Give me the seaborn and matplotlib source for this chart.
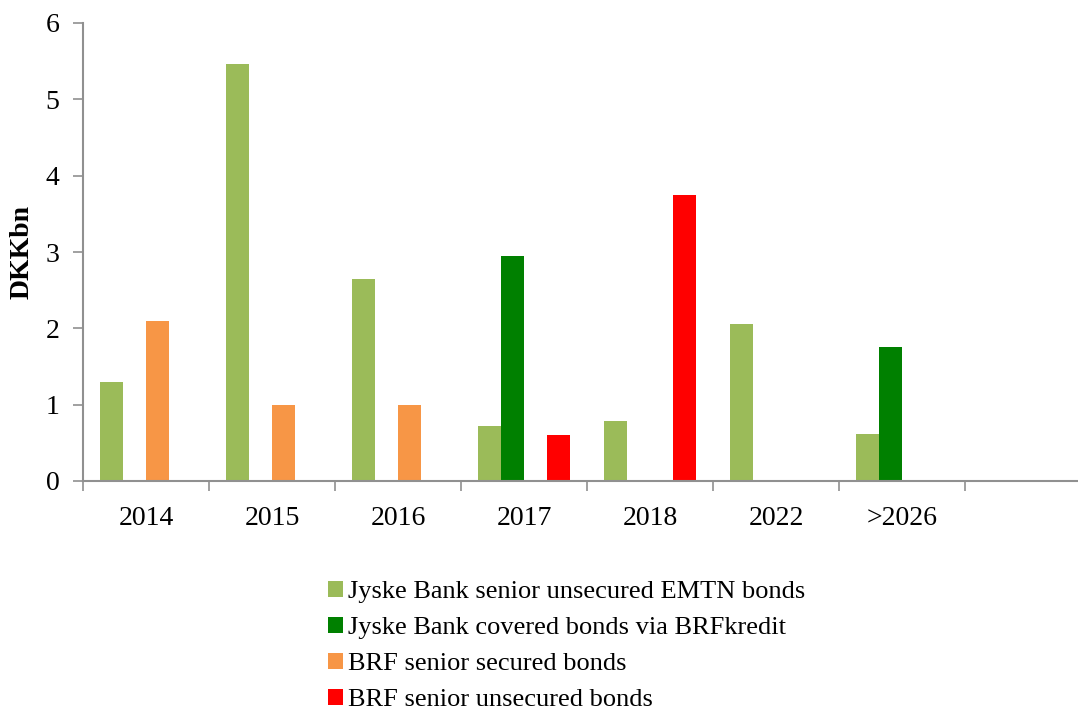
import matplotlib
matplotlib.use("Agg")
import matplotlib.pyplot as plt
import seaborn as sns
import pandas as pd
import numpy as np

categories = ["2014", "2015", "2016", "2017", "2018", "2022", ">2026"]
series_names = [
    "Jyske Bank senior unsecured EMTN bonds",
    "Jyske Bank covered bonds via BRFkredit",
    "BRF senior secured bonds",
    "BRF senior unsecured bonds",
]
jyske_emtn = [1.30, 5.46, 2.64, 0.72, 0.78, 2.06, 0.62]
jyske_covered = [0, 0, 0, 2.95, 0, 0, 1.75]
brf_secured = [2.10, 1.00, 1.00, 0, 0, 0, 0]
brf_unsecured = [0, 0, 0, 0.60, 3.75, 0, 0]
colors = ["#9BBB59", "#008000", "#F79646", "#FF0000"]

rows = []
for name, vals in zip(series_names, [jyske_emtn, jyske_covered, brf_secured, brf_unsecured]):
    for c, v in zip(categories, vals):
        if v > 0:
            rows.append({"year": c, "series": name, "value": v})
df = pd.DataFrame(rows)

sns.set_style("white")
plt.rcParams["font.family"] = ["Liberation Serif", "DejaVu Serif"]
plt.rcParams["text.color"] = "black"
plt.rcParams["axes.labelcolor"] = "black"
plt.rcParams["xtick.labelcolor"] = "black"
plt.rcParams["ytick.labelcolor"] = "black"

fig = plt.figure(figsize=(10.78, 7.13), dpi=100)
ax = fig.add_axes([83 / 1078, 1 - 481 / 713, (1091 - 83) / 1078, (481 - 23) / 713])

sns.barplot(data=df, x="year", y="value", hue="series", order=categories,
            hue_order=series_names, palette=colors, width=0.73, gap=0,
            linewidth=0, saturation=1, ax=ax, legend=True)

ax.set_xlim(-0.5, 7.5)
ax.set_ylim(0, 6)
ax.set_yticks(range(0, 7))
ax.set_xticks(range(len(categories)))
ax.set_xticklabels(categories)
ax.set_xticks(np.arange(-0.5, 8.0, 1.0), minor=True)
ax.tick_params(axis="x", which="major", length=0, pad=18, labelsize=20)
ax.tick_params(axis="x", which="minor", length=7, width=1.2, color="#909090", direction="out", bottom=True)
ax.tick_params(axis="y", length=7, width=1.2, color="#909090", direction="out", left=True, labelsize=20, pad=10)
for s in ["top", "right"]:
    ax.spines[s].set_visible(False)
for s in ["left", "bottom"]:
    ax.spines[s].set_color("#909090")
    ax.spines[s].set_linewidth(1.5)
ax.set_xlabel("")
ax.set_ylabel("DKKbn", fontsize=20, fontweight="bold", labelpad=8)
ax.grid(False)

handles, labels = ax.get_legend_handles_labels()
ax.get_legend().remove()
fig.legend(handles, labels, loc="upper left", bbox_to_anchor=(328 / 1078, 1 - 581 / 713),
           frameon=False, fontsize=19, handlelength=0.55, handleheight=0.55,
           handletextpad=0.2, labelspacing=0.52, borderaxespad=0, borderpad=0)

fig.savefig("out.png", dpi=100)
